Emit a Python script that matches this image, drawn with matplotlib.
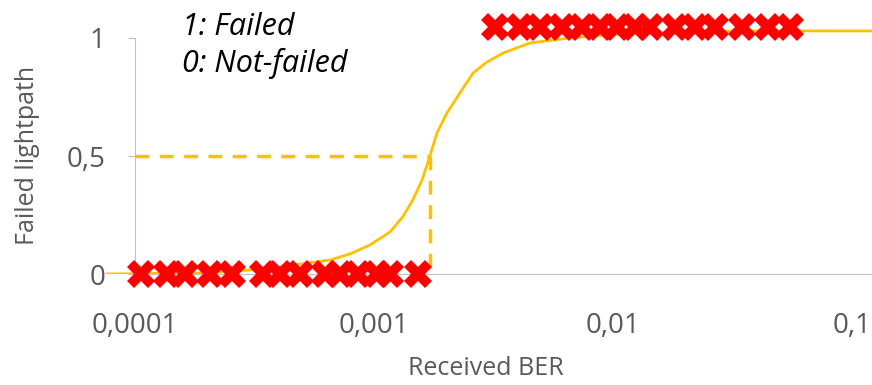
import matplotlib.pyplot as plt

# lightpaths that did not fail (plotted at 0)
ber_ok = [1.06e-4, 1.36e-4, 1.62e-4, 2.06e-4, 2.55e-4, 3.43e-4, 4.05e-4,
          4.90e-4, 6.24e-4, 7.21e-4, 8.57e-4, 1.03e-3, 1.17e-3, 1.53e-3]
# lightpaths that failed (drawn slightly above 1 in the original)
ber_failed = [3.21e-3, 4.08e-3, 4.95e-3, 6.12e-3, 7.42e-3, 8.83e-3, 1.04e-2,
              1.24e-2, 1.43e-2, 1.82e-2, 2.20e-2, 2.67e-2, 3.47e-2, 4.45e-2, 5.51e-2]
failed_level = 1.045

# fitted curve
curve_ber = [7.64e-5, 1.156e-4, 1.87e-4, 3.03e-4, 4.90e-4, 6.54e-4, 7.94e-4,
             9.62e-4, 1.167e-3, 1.32e-3, 1.455e-3, 1.59e-3, 1.715e-3, 1.835e-3,
             2.02e-3, 2.29e-3, 2.60e-3, 2.97e-3, 3.47e-3, 4.50e-3, 6.61e-3,
             1.07e-2, 2.04e-2, 3.85e-2, 1.21e-1]
curve_p = [0.0, 0.002, 0.004, 0.017, 0.042, 0.059, 0.085, 0.123, 0.178, 0.242,
           0.314, 0.398, 0.5, 0.597, 0.682, 0.767, 0.852, 0.898, 0.936, 0.979,
           1.0, 1.017, 1.025, 1.03, 1.03]

threshold_ber = 1.715e-3
threshold_p = 0.5

x_ticks = [1e-4, 1e-3, 1e-2, 1e-1]
x_labels = ["0,0001", "0,001", "0,01", "0,1"]
y_ticks = [0, 0.5, 1]
y_labels = ["0", "0,5", "1"]

gold = "#FFC000"
grey = "#595959"
plt.rcParams["font.family"] = ["Open Sans", "DejaVu Sans"]

fig = plt.figure(figsize=(8.72, 3.85), dpi=100)
ax = fig.add_axes([0.1147, 0.2883, 0.8853, 0.7117])

ax.plot(curve_ber, curve_p, color=gold, lw=2, zorder=2)
ax.plot([x_ticks[0], threshold_ber], [threshold_p, threshold_p],
        color=gold, lw=2.5, dashes=(4, 3), zorder=2)
ax.plot([threshold_ber, threshold_ber], [threshold_p, 0],
        color=gold, lw=2.5, dashes=(4, 3), zorder=2)

ax.plot(ber_ok, [0] * len(ber_ok), "X", color="red", ms=20, mew=0,
        clip_on=False, zorder=3)
ax.plot(ber_failed, [failed_level] * len(ber_failed), "X", color="red",
        ms=20, mew=0, clip_on=False, zorder=3)

ax.set_xscale("log")
ax.set_xlim(10 ** -4.146, 10 ** -0.916)
ax.set_ylim(0, 1.161)

for s in ["top", "right"]:
    ax.spines[s].set_visible(False)
ax.spines["left"].set_position(("data", 1e-4))
ax.spines["left"].set_bounds(0, 1)
ax.spines["left"].set_color("#BFBFBF")
ax.spines["bottom"].set_bounds(1e-4, 10 ** -0.916)
ax.spines["bottom"].set_color("#BFBFBF")

ax.set_xticks(x_ticks)
ax.set_xticklabels(x_labels)
ax.minorticks_off()
ax.set_yticks(y_ticks)
ax.set_yticklabels(y_labels)
ax.tick_params(axis="x", length=0, pad=27, labelsize=20, labelcolor=grey)
ax.tick_params(axis="y", length=5, pad=16, color="#BFBFBF", labelsize=20,
               labelcolor=grey)

ax.set_xlabel("Received BER", fontsize=18, color=grey, labelpad=12)
fig.text(28 / 872, 1 - 155 / 385, "Failed lightpath", rotation=90,
         ha="center", va="center", fontsize=18, color=grey)

ax.text(182 / 772 - 100 / 772, 1 - 12 / 274, "1: Failed", transform=ax.transAxes,
        fontsize=22, style="italic", va="top")
ax.text(182 / 772 - 100 / 772, 1 - 48 / 274, "0: Not-failed", transform=ax.transAxes,
        fontsize=22, style="italic", va="top")

fig.savefig("out.png", dpi=100)
